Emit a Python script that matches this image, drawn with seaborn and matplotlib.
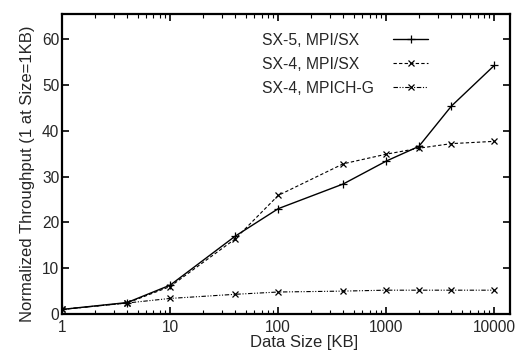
import pandas as pd
import seaborn as sns
import matplotlib.pyplot as plt

# data
sizes = [1, 4, 10, 40, 100, 400, 1000, 2000, 4000, 10000]
sx5_mpisx = [1, 2.5, 6.3, 17.0, 23.0, 28.4, 33.4, 36.6, 45.4, 54.3]
sx4_mpisx = [1, 2.4, 6.0, 16.4, 25.9, 32.8, 34.9, 36.2, 37.2, 37.7]
sx4_mpichg = [1, 2.4, 3.4, 4.3, 4.8, 5.0, 5.2, 5.2, 5.2, 5.2]

series_names = ['SX-5, MPI/SX', 'SX-4, MPI/SX', 'SX-4, MPICH-G']
series_values = [sx5_mpisx, sx4_mpisx, sx4_mpichg]
styles = [
    dict(linestyle='-', marker='+', markersize=6, lw=1.0),
    dict(linestyle=(0, (3, 2)), marker='x', markersize=4.5, lw=0.8),
    dict(linestyle=(0, (4, 1.5, 1, 1.5, 1, 1.5)), marker='x', markersize=4.5, lw=0.8),
]

sns.set_style('ticks')
plt.rcParams['font.family'] = ['Liberation Sans', 'DejaVu Sans']

fig = plt.figure(figsize=(5.26, 3.55), dpi=100)
ax = fig.add_axes([0.118, 0.1155, 0.852, 0.845])

for name, vals, st in zip(series_names, series_values, styles):
    df = pd.DataFrame({'size': sizes, 'thr': vals})
    sns.lineplot(data=df, x='size', y='thr', ax=ax, color='black',
                 label=name, markeredgecolor='black', markeredgewidth=0.9, **st)

ax.set_xscale('log')
ax.set_xlim(1, 14000)
ax.set_ylim(0, 65.5)
ax.set_yticks([0, 10, 20, 30, 40, 50, 60])
ax.set_xticks([1, 10, 100, 1000, 10000])
ax.set_xticklabels(['1', '10', '100', '1000', '10000'])

ax.tick_params(which='both', direction='in', top=True, right=True, color='black')
ax.tick_params(which='major', length=5, width=1.2, labelsize=11.2, pad=2)
ax.tick_params(axis='x', which='major', pad=4)
ax.tick_params(which='minor', length=3, width=0.8)
for sp in ax.spines.values():
    sp.set_linewidth(1.6)
    sp.set_color('black')

ax.set_xlabel('Data Size [KB]', fontsize=12)
ax.set_ylabel('Normalized Throughput (1 at Size=1KB)', fontsize=12)
ax.xaxis.set_label_coords(0.54, -0.07)
ax.yaxis.set_label_coords(-0.06, 0.467)

leg = ax.legend(loc='upper left', bbox_to_anchor=(0.446, 0.938), frameon=False,
                fontsize=11.3, markerfirst=False, handlelength=2.2,
                handletextpad=1.25, labelspacing=0.58, borderpad=0, borderaxespad=0)

# left-align the legend texts while keeping the samples in one column
fig.canvas.draw()
r = fig.canvas.get_renderer()
texts = leg.get_texts()
widths = [t.get_window_extent(r).width for t in texts]
wmax = max(widths)
for col in leg._legend_handle_box.get_children():
    for item, w in zip(col.get_children(), widths):
        item.sep = item.sep + (wmax - w) * 72 / fig.dpi

fig.savefig('out.png', dpi=100)
